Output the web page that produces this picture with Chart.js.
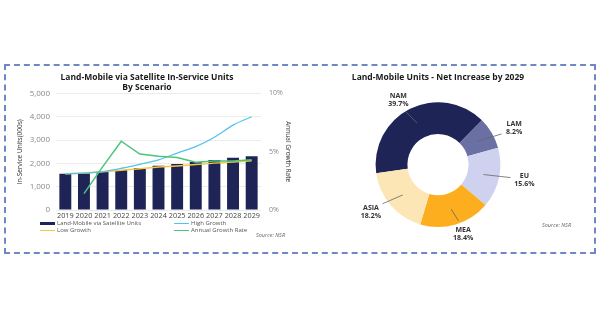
<!DOCTYPE html>
<html>
<head>
<meta charset="utf-8">
<script src="https://cdn.jsdelivr.net/npm/chart.js@4"></script>
<style>
  html,body{margin:0;padding:0;background:#fff;width:600px;height:325px;overflow:hidden;font-family:"Open Sans",sans-serif;}
  #frame{position:absolute;left:4px;top:64px;width:592px;height:190px;box-sizing:border-box;border:2px dashed #6f87c4;}
  #leftWrap{position:absolute;left:0;top:64px;width:300px;height:160px;}
  #rightWrap{position:absolute;left:300px;top:64px;width:296px;height:189px;}
  .legend{position:absolute;left:40px;top:220px;font-size:6px;color:#555;line-height:7px;}
  .legend .row{display:flex;height:7px;align-items:center;}
  .legend .item{display:flex;align-items:center;}
  .legend .item.c1{width:134px;}
  .legend .sym{display:inline-block;width:15px;margin-right:2px;}
  .src{position:absolute;font-size:5.5px;font-style:italic;color:#666;}
</style>
</head>
<body>
<div id="frame"></div>
<div id="leftWrap"><canvas id="c1" width="300" height="160"></canvas></div>
<div id="rightWrap"><canvas id="c2" width="296" height="189"></canvas></div>
<div class="legend">
  <div class="row">
    <div class="item c1"><span class="sym" style="height:3px;background:#1f2456"></span><span id="lg0"></span></div>
    <div class="item"><span class="sym" style="height:1.5px;background:#55c3ea"></span><span id="lg1"></span></div>
  </div>
  <div class="row">
    <div class="item c1"><span class="sym" style="height:1.5px;background:#f5c842"></span><span id="lg2"></span></div>
    <div class="item"><span class="sym" style="height:1.5px;background:#4cc47c"></span><span id="lg3"></span></div>
  </div>
</div>
<div class="src" style="left:256px;top:231px;">Source: NSR</div>
<div class="src" style="left:542px;top:221px;">Source: NSR</div>
<script>
// ---- Data ----
const years = ['2019','2020','2021','2022','2023','2024','2025','2026','2027','2028','2029'];
const unitsValues = [1550,1580,1640,1720,1800,1900,1970,2055,2140,2240,2310];
const highGrowth  = [1550,1580,1650,1790,1960,2150,2440,2720,3120,3640,4000];
const lowGrowth   = [1550,1590,1640,1700,1770,1840,1890,1950,2010,2060,2110];
const growthRate  = [null,1.4,3.7,5.9,4.8,4.6,4.5,4.1,4.2,4.2,4.3];
const seriesNames = ['Land-Mobile via Satellite Units','High Growth','Low Growth','Annual Growth Rate'];

const regions = ['NAM','LAM','EU','MEA','ASIA'];
const regionShares = [39.7,8.2,15.6,18.4,18.2];

const FONT = '"Open Sans", sans-serif';
seriesNames.forEach((n,i)=>document.getElementById('lg'+i).textContent=n);

// ---- Left chart ----
new Chart(document.getElementById('c1'), {
  data: {
    labels: years,
    datasets: [
      {type:'line', label:seriesNames[1], data:highGrowth, borderColor:'#55c3ea', borderWidth:1.3, pointRadius:0, tension:0.3, yAxisID:'y', order:1},
      {type:'line', label:seriesNames[2], data:lowGrowth, borderColor:'#f5c842', borderWidth:1.5, pointRadius:0, tension:0, yAxisID:'y', order:1},
      {type:'line', label:seriesNames[3], data:growthRate, borderColor:'#4cc47c', borderWidth:1.5, pointRadius:0, tension:0, yAxisID:'y2', order:0},
      {type:'bar', label:seriesNames[0], data:unitsValues, backgroundColor:'#1f2456', categoryPercentage:0.8, barPercentage:0.8, yAxisID:'y', order:2}
    ]
  },
  options: {
    responsive:false, animation:false,
    layout:{padding:{left:2,right:8,top:0,bottom:0}},
    plugins:{
      legend:{display:false}, tooltip:{enabled:false},
      title:{display:true, text:['Land-Mobile via Satellite In-Service Units','By Scenario'], color:'#1a1a1a',
        font:{family:FONT, size:8.5, weight:'bold'}, padding:{top:8,bottom:1}, lineHeight:1.25}
    },
    scales:{
      x:{grid:{display:false, drawTicks:false}, border:{display:false},
        ticks:{color:'#444', font:{family:FONT,size:7.3}, padding:2, maxRotation:0, autoSkip:false},
        afterFit(s){s.height=14;}},
      y:{position:'left', min:0, max:5000, grid:{color:'#ececec', drawTicks:false}, border:{display:false},
        ticks:{stepSize:1000, color:'#888', font:{family:FONT,size:8}, padding:6, callback:v=>v.toLocaleString('en-US')},
        title:{display:true, text:'In-Service Units(000s)', color:'#333', font:{family:FONT,size:6.5}, padding:{top:14,bottom:0}},
        afterFit(s){s.width=54;}},
      y2:{position:'right', min:0, max:10, grid:{display:false, drawTicks:false}, border:{display:false},
        ticks:{stepSize:5, color:'#888', font:{family:FONT,size:7}, padding:8, callback:v=>v+'%'},
        title:{display:true, text:'Annual Growth Rate', color:'#333', font:{family:FONT,size:6.5}, padding:0},
        afterFit(s){s.width=31;}}
    }
  }
});

// ---- Right chart (doughnut) ----
const labelPlugin = {
  id:'arcLabels',
  afterDatasetsDraw(chart){
    const ctx = chart.ctx;
    const meta = chart.getDatasetMeta(0);
    meta.data.forEach((arc,i)=>{
      const p = arc.getProps(['x','y','startAngle','endAngle','innerRadius','outerRadius'], true);
      const mid = (p.startAngle+p.endAngle)/2;
      const c = Math.cos(mid), s = Math.sin(mid);
      const ringR = (p.innerRadius+p.outerRadius)/2;
      const lx = p.x + c*(p.outerRadius+26);
      const ly = p.y + s*(p.outerRadius+10);
      const vx = lx-p.x, vy = ly-p.y, vl = Math.hypot(vx,vy);
      const f = 1 - 14/vl;
      ctx.save();
      ctx.strokeStyle = '#666'; ctx.lineWidth = 0.8;
      ctx.beginPath();
      ctx.moveTo(p.x + c*ringR, p.y + s*ringR);
      ctx.lineTo(p.x + vx*f, p.y + vy*f);
      ctx.stroke();
      ctx.fillStyle = '#333';
      ctx.font = 'bold 7px '+FONT;
      ctx.textAlign = 'center'; ctx.textBaseline = 'middle';
      ctx.fillText(regions[i], lx, ly-4);
      ctx.fillText(regionShares[i].toFixed(1)+'%', lx, ly+4);
      ctx.restore();
    });
  }
};

new Chart(document.getElementById('c2'), {
  type:'doughnut',
  data:{labels:regions, datasets:[{data:regionShares,
    backgroundColor:['#1f2456','#6a6fa4','#cfd2ee','#fcae1e','#fde6b6'], borderWidth:0}]},
  options:{
    responsive:false, animation:false, rotation:-98, cutout:'49%',
    layout:{padding:{left:0,right:20,top:0,bottom:26}},
    plugins:{
      legend:{display:false}, tooltip:{enabled:false},
      title:{display:true, text:'Land-Mobile Units - Net Increase by 2029', color:'#1a1a1a',
        font:{family:FONT,size:8.5,weight:'bold'}, padding:{top:8,bottom:20}}
    }
  },
  plugins:[labelPlugin]
});
</script>
</body>
</html>
